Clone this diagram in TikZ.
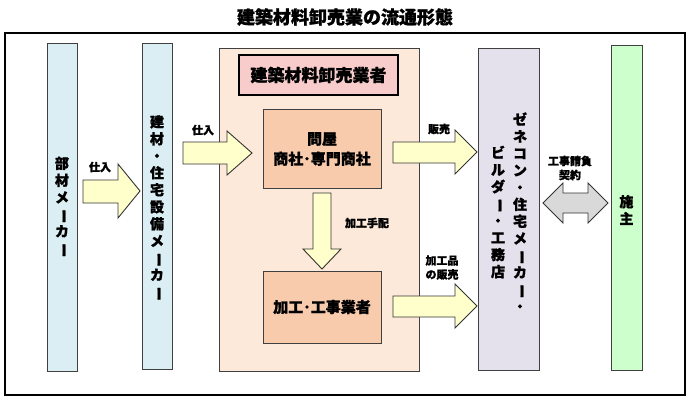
\documentclass[tikz,border=0pt]{standalone}
\usepackage{fontspec}
\usepackage{graphicx}
\newfontfamily\jp{Noto Sans CJK JP}[BoldFeatures={FakeBold=1.2}]
\definecolor{cblue}{HTML}{DAEEF3}
\definecolor{cpeach}{HTML}{FDE9D9}
\definecolor{cpink}{HTML}{F9CCCC}
\definecolor{ctan}{HTML}{F8CBAD}
\definecolor{cyel}{HTML}{FFFFCC}
\definecolor{cgray}{HTML}{D9D9D9}
\definecolor{clav}{HTML}{E4E1EC}
\definecolor{cgreen}{HTML}{CCFFCC}
\newcommand\tatebar{\rotatebox[origin=c]{-90}{ー}}
\newcommand\harr[7]{% x0 xh xt by0 by1 hy0 hy1
  \draw[blk] (#1,#4) -- (#2,#4) -- (#2,#6) -- (#3,{(#6+#7)/2}) -- (#2,#7) -- (#2,#5) -- (#1,#5) -- cycle;}
\tikzset{
  box/.style={draw=black!75, line width=0.8pt, inner sep=0pt},
  blk/.style={draw=black!80, fill=cyel, line width=0.9pt, line join=miter},
  vtext/.style={font=\jp\bfseries\fontsize{14}{17}\selectfont, align=center, inner sep=0pt},
  lbl/.style={font=\jp\bfseries\fontsize{11}{14}\selectfont, align=center, inner sep=0pt},
  mtext/.style={font=\jp\bfseries\fontsize{15}{20}\selectfont, align=center, inner sep=0pt},
}
\begin{document}
\begin{tikzpicture}[x=1pt,y=-1pt]
\useasboundingbox (0,0) rectangle (689,400);
\fill[white] (0,0) rectangle (689,400);
\node[font=\jp\bfseries\fontsize{18}{20}\selectfont] (title) at (345,17) {建築材料卸売業の流通形態};
\draw[line width=1.2pt] (5,33) rectangle (685,395);
% boxes
\node[box, fill=cblue, minimum width=30pt, minimum height=328pt] (b1) at (62,207) {};
\node[vtext] (t1) at (62,207) {部\\材\\メ\\\tatebar\\カ\\\tatebar};
\node[box, fill=cblue, minimum width=30pt, minimum height=326pt] (b2) at (157,206) {};
\node[vtext] (t2) at (157,208) {建\\材\\・\\住\\宅\\設\\備\\メ\\\tatebar\\カ\\\tatebar};
\node[box, fill=cpeach, minimum width=200pt, minimum height=323pt] (big) at (319,209.5) {};
\node[draw=black, line width=2.2pt, fill=cpink, minimum width=159pt, minimum height=40pt, font=\jp\bfseries\fontsize{17}{20}\selectfont] (tb) at (318.5,75) {建築材料卸売業者};
\node[box, fill=ctan, minimum width=118pt, minimum height=79pt] (w) at (322,148.5) {};
\node[mtext] (wt) at (322,149) {問屋\\商社･専門商社};
\node[box, fill=ctan, minimum width=118pt, minimum height=72pt] (k) at (322,307) {};
\node[mtext] (kt) at (322,307) {加工･工事業者};
\node[box, fill=clav, minimum width=61pt, minimum height=322pt] (g) at (508.5,209) {};
\node[vtext] (gr) at (520,212) {ゼ\\ネ\\コ\\ン\\・\\住\\宅\\メ\\\tatebar\\カ\\\tatebar\\・};
\node[vtext] (gl) at (498,212) {ビ\\ル\\ダ\\\tatebar\\・\\工\\務\\店};
\node[box, fill=cgreen, minimum width=31pt, minimum height=325pt] (s) at (626.5,207.5) {};
\node[vtext] (st) at (626.5,210) {施\\主};
% arrows
\harr{83}{118}{140}{180}{203}{164}{218}
\harr{183}{227}{252}{142}{164}{131}{175}
\harr{393}{455}{477}{142}{163}{130}{174}
\harr{393}{455}{477}{296}{317}{284}{328}
\draw[blk] (313,193) -- (331,193) -- (331,249) -- (341,249) -- (322,269) -- (303,249) -- (313,249) -- cycle;
\draw[blk, fill=cgray] (543,203) -- (563,183) -- (563,193) -- (588,193) -- (588,183) -- (608,203) -- (588,223) -- (588,213) -- (563,213) -- (563,223) -- cycle;
% labels
\node[lbl] (l1) at (100,167) {仕入};
\node[lbl] (l2) at (203,130) {仕入};
\node[lbl] (l3) at (439,129) {販売};
\node[lbl] (l4) at (442,267.5) {加工品\\の販売};
\node[lbl] (l5) at (367,223) {加工手配};
\node[lbl] (l6) at (570,168) {工事請負\\契約};
\end{tikzpicture}
\end{document}
